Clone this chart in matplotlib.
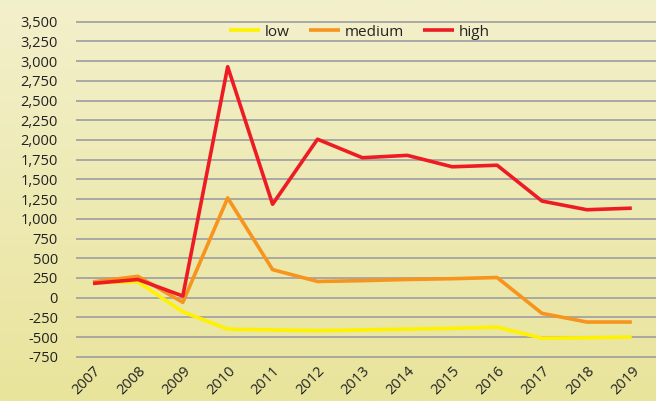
import matplotlib
matplotlib.use("Agg")
import matplotlib.pyplot as plt
import matplotlib.transforms as mtransforms
from matplotlib.colors import LinearSegmentedColormap
import numpy as np

plt.rcParams['font.family'] = ['Open Sans', 'DejaVu Sans']

years = ['2007', '2008', '2009', '2010', '2011', '2012', '2013',
         '2014', '2015', '2016', '2017', '2018', '2019']
low = [190, 200, -180, -400, -410, -420, -410, -400, -390, -375, -515, -510, -500]
medium = [200, 270, -60, 1265, 355, 205, 215, 230, 240, 255, -200, -310, -310]
high = [180, 230, 20, 2930, 1185, 2010, 1775, 1805, 1660, 1680, 1225, 1115, 1135]
yticks = list(range(-750, 3501, 250))

fig = plt.figure(figsize=(6.56, 4.01), dpi=100)

# background gradient
bg = fig.add_axes([0, 0, 1, 1], zorder=-10)
cmap = LinearSegmentedColormap.from_list('bg', ['#F3F0CC', '#E9E49B'])
grad = np.linspace(0, 1, 256).reshape(-1, 1)
bg.imshow(grad, aspect='auto', cmap=cmap, extent=[0, 1, 0, 1], origin='upper')
bg.axis('off')

ax = fig.add_axes([76/656, 1 - 357.5/401, 580/656, (357.5 - 21)/401])
ax.patch.set_alpha(0)
x = np.arange(len(years))
ax.plot(x, low, color='#FFF200', lw=2.6, label='low', solid_capstyle='butt')
ax.plot(x, medium, color='#F7941D', lw=2.6, label='medium', solid_capstyle='butt')
ax.plot(x, high, color='#ED1C24', lw=2.6, label='high', solid_capstyle='butt')

ax.set_ylim(-760, 3510)
ax.set_xlim((76 - 93) / 44.9, (656 - 93) / 44.9)
ax.set_yticks(yticks)
ax.set_yticklabels([f"{v:,}" for v in yticks])
ax.set_xticks(x)
ax.set_xticklabels(years, rotation=45, ha='right', va='top', rotation_mode='anchor')
offset = mtransforms.ScaledTranslation(14/72, 0, fig.dpi_scale_trans)
for lbl in ax.get_xticklabels():
    lbl.set_transform(lbl.get_transform() + offset)

ax.tick_params(axis='both', length=0, labelsize=10.5, colors='#222222')
ax.tick_params(axis='y', pad=13)
ax.tick_params(axis='x', pad=4)
ax.grid(axis='y', color='#A3A3A3', lw=1.3)
ax.set_axisbelow(True)
for s in ax.spines.values():
    s.set_visible(False)

leg = fig.legend(*ax.get_legend_handles_labels(), loc='center left',
                 bbox_to_anchor=(229/656, 1 - 32/401), ncol=3, frameon=False,
                 fontsize=11, handlelength=2.0, handletextpad=0.35, columnspacing=1.25,
                 borderaxespad=0, borderpad=0)
for t in leg.get_texts():
    t.set_color('#222222')

fig.savefig('out.png', dpi=100)
